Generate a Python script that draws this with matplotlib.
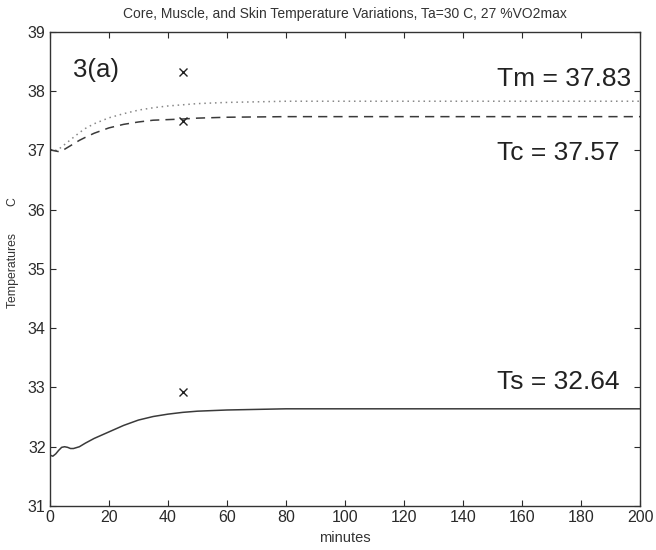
import matplotlib
matplotlib.use('Agg')
import matplotlib.pyplot as plt

plt.rcParams['font.family'] = ['Liberation Sans', 'DejaVu Sans']

# time in minutes
t = [0, 1, 2, 3, 4, 5, 6, 7, 8, 10, 12, 15, 20, 25, 30, 35, 40, 45, 50,
     60, 70, 80, 100, 120, 140, 160, 180, 200]

# core temperature (dashed)
tc = [37.02, 37.0, 36.99, 36.98, 36.99, 37.02, 37.05, 37.08, 37.11, 37.17,
      37.22, 37.29, 37.38, 37.44, 37.48, 37.51, 37.52, 37.53, 37.545,
      37.56, 37.565, 37.57, 37.57, 37.57, 37.57, 37.57, 37.57, 37.57]

# muscle temperature (dotted)
tm = [37.02, 37.0, 37.0, 37.02, 37.06, 37.1, 37.14, 37.18, 37.22, 37.3,
      37.37, 37.45, 37.55, 37.62, 37.68, 37.72, 37.75, 37.77, 37.79,
      37.81, 37.82, 37.83, 37.83, 37.83, 37.83, 37.83, 37.83, 37.83]

# skin temperature (solid)
ts = [31.86, 31.84, 31.88, 31.94, 31.99, 32.0, 31.99, 31.97, 31.97, 32.0,
      32.06, 32.14, 32.25, 32.36, 32.45, 32.51, 32.55, 32.58, 32.6,
      32.62, 32.63, 32.64, 32.64, 32.64, 32.64, 32.64, 32.64, 32.64]

# measured points at 45 min
mark_t = [45, 45, 45]
mark_y = [38.32, 37.5, 32.92]

labels = ['Tm = 37.83', 'Tc = 37.57', 'Ts = 32.64']
label_y = [38.2, 36.96, 33.1]

fig = plt.figure(figsize=(6.56, 5.5), dpi=100)
ax = fig.add_axes([0.076, 0.08, 0.9, 0.862])

line_col = '#3a3a3a'
ax.plot(t, tm, color='#888888', linestyle=(0, (1, 2.5)), linewidth=1.1)
ax.plot(t, tc, color=line_col, linestyle=(0, (6, 4)), linewidth=1.1)
ax.plot(t, ts, color=line_col, linestyle='-', linewidth=1.1)
ax.plot(mark_t, mark_y, linestyle='none', marker='x', color='#222222',
        markersize=6, markeredgewidth=1.0)

ax.text(7.8, 38.36, '3(a)', fontsize=18.5, va='center', ha='left', color='#222222')
for lab, yy in zip(labels, label_y):
    ax.text(151.5, yy, lab, fontsize=19, va='center', ha='left', color='#222222')

ax.set_xlim(0, 200)
ax.set_ylim(31, 39)
ax.set_xticks(range(0, 201, 20))
ax.set_yticks(range(31, 40))
ax.tick_params(direction='in', top=True, right=True, labelsize=11.5,
               length=4, width=0.8, pad=3, colors='#2a2a2a')
for sp in ax.spines.values():
    sp.set_color('#333333')
    sp.set_linewidth(1.0)

ax.set_title('Core, Muscle, and Skin Temperature Variations, Ta=30 C, 27 %VO2max',
             fontsize=10, color='#333333', pad=10)
ax.set_xlabel('minutes', fontsize=10.5, color='#333333', labelpad=4)
ax.set_ylabel('Temperatures        C', fontsize=8.8, color='#333333')
ax.yaxis.set_label_coords(-0.052, 0.535)

fig.savefig('out.png', dpi=100)
